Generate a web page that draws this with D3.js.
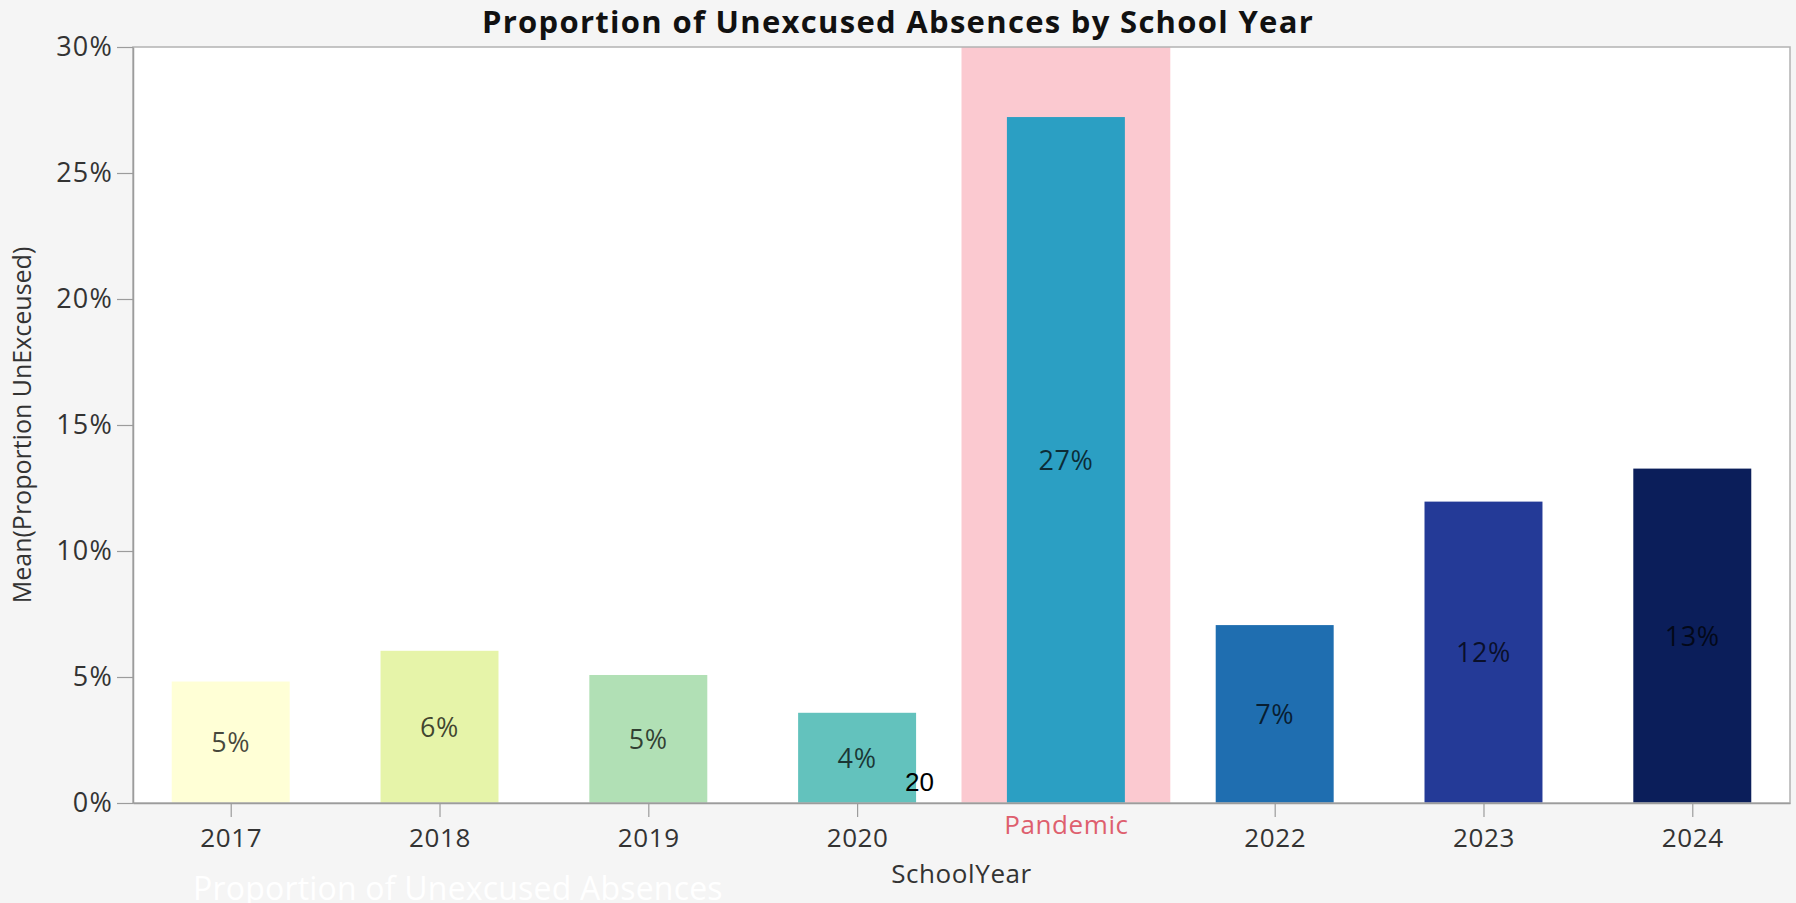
<!DOCTYPE html>
<html>
<head>
<meta charset="utf-8">
<script src="https://cdn.jsdelivr.net/npm/d3@7"></script>
<style>
  html, body { margin: 0; padding: 0; background: #f5f5f5; }
  svg { display: block; }
</style>
</head>
<body>
<svg id="chart" width="1796" height="903"></svg>
<script>
// School years and the mean share of absences that were unexcused
const categories = ["2017", "2018", "2019", "2020", "Pandemic", "2022", "2023", "2024"];
const meanUnexcused = [0.0482, 0.0604, 0.0508, 0.0358, 0.2722, 0.0706, 0.1196, 0.1327];
const barColors = ["#ffffd6", "#e6f4a9", "#b1e0b5", "#63c2bd", "#2b9fc3", "#1f6eb0", "#243a97", "#0b1e5a"];
const yTickValues = [0, 0.05, 0.10, 0.15, 0.20, 0.25, 0.30];
const highlightedYears = ["Pandemic"];

const titleText = "Proportion of Unexcused Absences by School Year";
const xTitle = "SchoolYear";
const yTitle = "Mean(Proportion UnExceused)";
const footerText = "Proportion of Unexcused Absences";
const strayNote = "20";

const W = 1796, H = 903;
const plot = { left: 133, right: 1790, top: 47, bottom: 803 };
const font = "'Open Sans', 'Noto Sans', sans-serif";

const svg = d3.select("#chart");
const rows = categories.map((c, i) => ({ year: c, value: meanUnexcused[i], color: barColors[i] }));

const x = d3.scalePoint().domain(categories).range([plot.left, plot.right]).padding(0.468);
const y = d3.scaleLinear().domain([0, 0.30]).range([plot.bottom, plot.top]);
const step = x.step();
const barW = step * 0.565;
const pct = d3.format(".0%");

// plot background
svg.append("rect")
  .attr("x", plot.left).attr("y", plot.top)
  .attr("width", plot.right - plot.left).attr("height", plot.bottom - plot.top)
  .attr("fill", "#ffffff");

// shaded band behind the highlighted year
svg.append("g").selectAll("rect")
  .data(highlightedYears)
  .join("rect")
  .attr("x", d => x(d) - step / 2)
  .attr("y", y(0.30))
  .attr("width", step)
  .attr("height", y(0) - y(0.30))
  .attr("fill", "#fbc9d0");

// bars
svg.append("g").selectAll("rect")
  .data(rows)
  .join("rect")
  .attr("x", d => x(d.year) - barW / 2)
  .attr("y", d => y(d.value))
  .attr("width", barW)
  .attr("height", d => y(0) - y(d.value))
  .attr("fill", d => d.color);

// value labels, centred in each bar
svg.append("g").selectAll("text")
  .data(rows)
  .join("text")
  .attr("x", d => x(d.year))
  .attr("y", d => (y(d.value) + y(0)) / 2)
  .attr("dy", "0.36em")
  .attr("text-anchor", "middle")
  .attr("font-family", font)
  .attr("font-size", 27)
  .attr("letter-spacing", 0.6)
  .attr("fill", "#000")
  .attr("fill-opacity", 0.72)
  .text(d => pct(d.value));

// frame
svg.append("rect")
  .attr("x", plot.left).attr("y", plot.top)
  .attr("width", plot.right - plot.left).attr("height", plot.bottom - plot.top)
  .attr("fill", "none")
  .attr("stroke", "#b2b2b2")
  .attr("stroke-width", 1.5);

// y axis
const yAxis = svg.append("g")
  .attr("transform", `translate(${plot.left},0)`)
  .call(d3.axisLeft(y).tickValues(yTickValues).tickFormat(pct).tickSize(16).tickPadding(4).tickSizeOuter(0));
yAxis.select(".domain").attr("stroke", "#9c9c9c").attr("stroke-width", 1.5);
yAxis.selectAll(".tick line").attr("stroke", "#9c9c9c").attr("stroke-width", 1.2);
yAxis.selectAll(".tick text")
  .attr("font-family", font).attr("font-size", 27).attr("letter-spacing", 1.2).attr("fill", "#333");

// x axis
const xAxis = svg.append("g")
  .attr("transform", `translate(0,${plot.bottom})`)
  .call(d3.axisBottom(x).tickSize(14).tickPadding(12).tickSizeOuter(0));
xAxis.select(".domain").attr("stroke", "#9c9c9c").attr("stroke-width", 1.5);
xAxis.selectAll(".tick line").attr("stroke", "#9c9c9c").attr("stroke-width", 1.2);
xAxis.selectAll(".tick text")
  .attr("font-family", font).attr("font-size", 26).attr("letter-spacing", 0.6).attr("fill", "#333");
xAxis.selectAll(".tick").filter(d => highlightedYears.includes(d))
  .call(t => t.select("line").remove())
  .select("text")
  .attr("y", 13)
  .attr("fill", "#de5f6e");

// title
svg.append("text")
  .attr("x", W / 2).attr("y", 33)
  .attr("text-anchor", "middle")
  .attr("font-family", font).attr("font-weight", 700).attr("font-size", 31)
  .attr("letter-spacing", 1.3)
  .attr("fill", "#111")
  .text(titleText);

// axis titles
svg.append("text")
  .attr("x", (plot.left + plot.right) / 2).attr("y", 883)
  .attr("text-anchor", "middle")
  .attr("font-family", font).attr("font-size", 26).attr("letter-spacing", 0.6)
  .attr("fill", "#333")
  .text(xTitle);

svg.append("text")
  .attr("transform", `translate(31,${(plot.top + plot.bottom) / 2}) rotate(-90)`)
  .attr("text-anchor", "middle")
  .attr("font-family", font).attr("font-size", 25)
  .attr("fill", "#333")
  .text(yTitle);

// small note beside the 2020 bar
svg.append("text")
  .attr("x", x("2020") + barW / 2 - 11).attr("y", 791)
  .attr("font-family", "'Liberation Sans', Arial, sans-serif").attr("font-size", 26)
  .attr("fill", "#000")
  .text(strayNote);

// faint caption along the bottom edge
svg.append("text")
  .attr("x", 193).attr("y", 900)
  .attr("font-family", font).attr("font-size", 32)
  .attr("letter-spacing", 0.2)
  .attr("fill", "#ffffff")
  .text(footerText);
</script>
</body>
</html>
